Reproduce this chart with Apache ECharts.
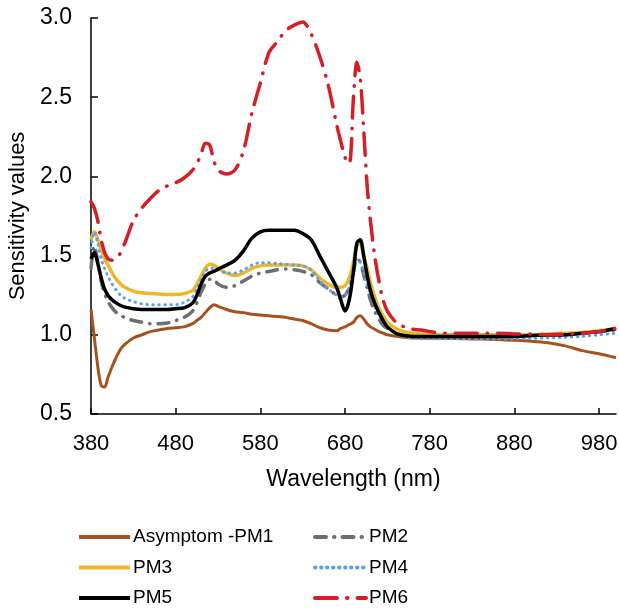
<!DOCTYPE html>
<html>
<head>
<meta charset="utf-8">
<script src="https://cdn.jsdelivr.net/npm/echarts@6/dist/echarts.min.js"></script>
<style>
  html, body { margin: 0; padding: 0; background: #fff; }
  #chart { width: 619px; height: 608px; }
</style>
</head>
<body>
<div id="chart"></div>
<script>
const chart = echarts.init(document.getElementById("chart"));

// ==========================
// DATA
// ==========================

const wavelength = [
  380, 384, 388, 392, 396, 400, 405, 410, 415, 420, 430, 440, 450, 460, 470,
  480, 490, 500, 505, 510, 515, 520, 525, 530, 540, 550, 560, 570, 580, 590,
  600, 610, 620, 630, 640, 650, 660, 670, 675, 680, 685, 690, 694, 698, 702,
  706, 710, 715, 720, 725, 730, 740, 750, 760, 770, 780, 800, 820, 840, 860,
  880, 900, 920, 940, 960, 980, 1000
];

const pm1 = [
  1.16, 0.98, 0.80, 0.68, 0.67, 0.73, 0.80, 0.86, 0.91, 0.94, 0.98, 1.00, 1.02, 1.03, 1.04,
  1.045, 1.05, 1.07, 1.09, 1.11, 1.14, 1.17, 1.19, 1.18, 1.16, 1.145, 1.14, 1.13, 1.125, 1.12,
  1.115, 1.11, 1.10, 1.09, 1.07, 1.045, 1.03, 1.025, 1.04, 1.05, 1.065, 1.08, 1.11, 1.12, 1.10,
  1.07, 1.05, 1.035, 1.02, 1.01, 1.00, 0.99, 0.985, 0.98, 0.98, 0.978, 0.977, 0.975, 0.973, 0.97,
  0.965, 0.96, 0.95, 0.93, 0.90, 0.88, 0.855
];

const pm2 = [
  1.42, 1.56, 1.46, 1.34, 1.26, 1.21, 1.17, 1.14, 1.12, 1.11, 1.09, 1.08, 1.07, 1.07, 1.075,
  1.09, 1.11, 1.15, 1.20, 1.27, 1.32, 1.35, 1.35, 1.32, 1.30, 1.31, 1.34, 1.37, 1.39, 1.40,
  1.41, 1.415, 1.41, 1.40, 1.38, 1.33, 1.29, 1.25, 1.24, 1.25, 1.30, 1.40, 1.48, 1.46, 1.38,
  1.30, 1.22, 1.15, 1.10, 1.06, 1.04, 1.01, 0.99, 0.985, 0.985, 0.985, 0.985, 0.988, 0.99, 0.99,
  0.992, 0.995, 1.00, 1.005, 1.01, 1.02, 1.03
];

const pm3 = [
  1.60, 1.65, 1.60, 1.54, 1.48, 1.44, 1.39, 1.35, 1.32, 1.30, 1.275, 1.265, 1.26, 1.258, 1.255,
  1.255, 1.26, 1.28, 1.32, 1.37, 1.42, 1.445, 1.44, 1.42, 1.39, 1.375, 1.39, 1.42, 1.435, 1.44,
  1.44, 1.44, 1.44, 1.435, 1.41, 1.36, 1.32, 1.30, 1.30, 1.31, 1.36, 1.46, 1.56, 1.58, 1.50,
  1.42, 1.33, 1.24, 1.17, 1.12, 1.08, 1.04, 1.02, 1.01, 1.005, 1.00, 1.00, 1.00, 1.00, 1.00,
  1.00, 1.00, 1.005, 1.01, 1.015, 1.025, 1.04
];

const pm4 = [
  1.55, 1.65, 1.58, 1.48, 1.42, 1.37, 1.32, 1.28, 1.25, 1.23, 1.21, 1.195, 1.19, 1.19, 1.19,
  1.19, 1.205, 1.24, 1.29, 1.35, 1.40, 1.42, 1.42, 1.41, 1.39, 1.39, 1.41, 1.44, 1.455, 1.455,
  1.45, 1.445, 1.44, 1.435, 1.41, 1.34, 1.29, 1.25, 1.24, 1.25, 1.30, 1.42, 1.48, 1.46, 1.40,
  1.32, 1.26, 1.18, 1.12, 1.08, 1.05, 1.01, 0.99, 0.98, 0.975, 0.975, 0.975, 0.975, 0.975, 0.975,
  0.975, 0.978, 0.98, 0.985, 0.99, 1.00, 1.01
];

const pm5 = [
  1.48, 1.52, 1.45, 1.36, 1.29, 1.25, 1.22, 1.20, 1.185, 1.175, 1.165, 1.16, 1.16, 1.16, 1.16,
  1.165, 1.17, 1.20, 1.25, 1.32, 1.37, 1.39, 1.40, 1.415, 1.44, 1.47, 1.53, 1.61, 1.65, 1.66,
  1.66, 1.66, 1.66, 1.64, 1.60, 1.50, 1.40, 1.30, 1.22, 1.15, 1.22, 1.40, 1.58, 1.60, 1.50,
  1.38, 1.28, 1.20, 1.14, 1.09, 1.05, 1.01, 0.995, 0.99, 0.99, 0.99, 0.99, 0.99, 0.99, 0.99,
  0.99, 0.995, 0.998, 1.00, 1.01, 1.02, 1.04
];

const pm6 = [
  1.84, 1.80, 1.72, 1.60, 1.52, 1.48, 1.47, 1.48, 1.52, 1.58, 1.72, 1.80, 1.86, 1.91, 1.94,
  1.96, 1.99, 2.04, 2.08, 2.14, 2.21, 2.20, 2.10, 2.04, 2.015, 2.04, 2.16, 2.40, 2.59, 2.78,
  2.85, 2.92, 2.955, 2.975, 2.90, 2.76, 2.58, 2.33, 2.22, 2.12, 2.08, 2.50, 2.72, 2.62, 2.30,
  1.95, 1.72, 1.50, 1.34, 1.22, 1.15, 1.08, 1.05, 1.035, 1.03, 1.02, 1.01, 1.01, 1.01, 1.01,
  1.005, 1.005, 1.00, 1.005, 1.01, 1.02, 1.04
];

const seriesNames = ["Asymptom -PM1", "PM2", "PM3", "PM4", "PM5", "PM6"];
const xTicks = [380, 480, 580, 680, 780, 880, 980];

// ==========================
// SERIES
// ==========================

function pairs(values) {
  return wavelength.map((w, i) => [w, values[i]]);
}

function line(name, values, color, width, type, cap) {
  return {
    name: name,
    type: "line",
    data: pairs(values),
    symbol: "none",
    smooth: 0.3,
    lineStyle: { color: color, width: width, type: type, cap: cap || "butt" },
    itemStyle: { color: color }
  };
}

const FONT = "Liberation Sans, Arial, sans-serif";

const legendBase = {
  orient: "vertical",
  top: 527,
  padding: 0,
  itemWidth: 51,
  itemHeight: 14,
  itemGap: 10.5,
  itemStyle: { opacity: 0 },
  lineStyle: { width: 4 },
  textStyle: { fontFamily: FONT, fontSize: 19, color: "#000", lineHeight: 20, padding: [0, 0, 0, -2] }
};

chart.setOption({
  animation: false,
  backgroundColor: "#fff",
  grid: { left: 91, right: 3, top: 18, bottom: 194, outerBoundsMode: "none" },

  xAxis: {
    type: "value",
    min: 380,
    max: 1000,
    interval: 100,
    name: "Wavelength (nm)",
    nameLocation: "middle",
    nameGap: 54,
    nameTextStyle: { fontFamily: FONT, fontSize: 23, color: "#000" },
    axisLine: { lineStyle: { color: "#000", width: 1.5 } },
    axisTick: { inside: true, length: 6, lineStyle: { color: "#000", width: 1.5 }, customValues: xTicks },
    axisLabel: { fontFamily: FONT, fontSize: 22, color: "#000", margin: 19, customValues: xTicks },
    splitLine: { show: false }
  },

  yAxis: {
    type: "value",
    min: 0.5,
    max: 3.0,
    interval: 0.5,
    name: "Sensitivity values",
    nameLocation: "middle",
    nameGap: 58,
    nameTextStyle: { fontFamily: FONT, fontSize: 22, color: "#000" },
    axisLine: { show: true, lineStyle: { color: "#000", width: 1.5 } },
    axisTick: { show: true, inside: true, length: 7, lineStyle: { color: "#000", width: 1.5 } },
    axisLabel: { fontFamily: FONT, fontSize: 23, color: "#000", margin: 19, formatter: v => v.toFixed(1) },
    splitLine: { show: false }
  },

  legend: [
    Object.assign({}, legendBase, {
      data: [seriesNames[0], seriesNames[2], seriesNames[4]],
      left: 77
    }),
    Object.assign({}, legendBase, {
      data: [seriesNames[1], seriesNames[3], seriesNames[5]],
      left: 313
    })
  ],

  series: [
    line(seriesNames[0], pm1, "#A5521F", 3),
    line(seriesNames[1], pm2, "#6E6E6E", 3.5, [11, 8, 0.5, 8], "round"),
    line(seriesNames[2], pm3, "#EBB82C", 3.5),
    line(seriesNames[3], pm4, "#5DA1EC", 3, [0.5, 5.5], "round"),
    line(seriesNames[4], pm5, "#000000", 3.5),
    line(seriesNames[5], pm6, "#D31F28", 3.5, [22, 10, 0.5, 10], "round")
  ]
});
</script>
</body>
</html>
